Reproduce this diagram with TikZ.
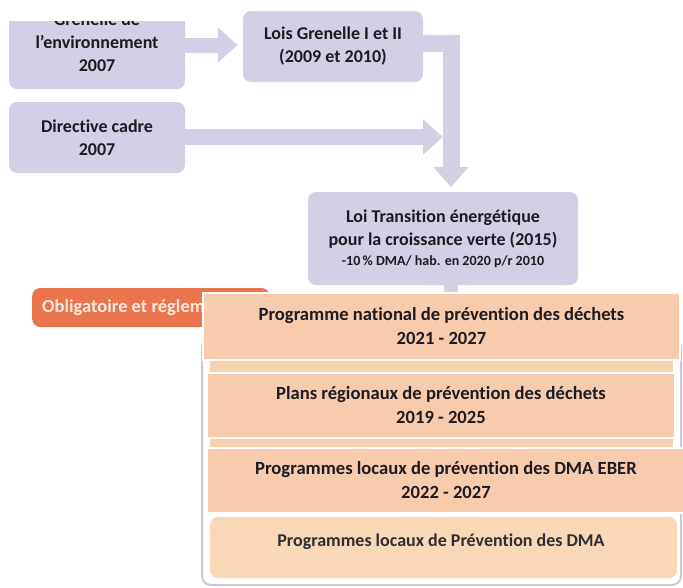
\documentclass[tikz,border=0pt]{standalone}
\usepackage{fontspec}
\setmainfont[Ligatures={NoCommon}]{Carlito}
\usetikzlibrary{arrows.meta}

\definecolor{lav}{HTML}{D3CFE4}
\definecolor{ink}{HTML}{1C1B22}
\definecolor{peach}{HTML}{F8CBAD}
\definecolor{peachold}{HTML}{F7D0AE}
\definecolor{peachlight}{HTML}{F9D8B7}
\definecolor{pillorange}{HTML}{EA744D}
\definecolor{pilltext}{HTML}{FCEAE0}
\definecolor{frame}{HTML}{C9C6D7}

\begin{document}
\begin{tikzpicture}[x=1pt,y=-1pt,
  lavbox/.style={fill=lav, rounded corners=8pt, inner sep=0pt, align=center,
    text=ink, font=\bfseries\fontsize{18}{23}\selectfont},
  arr/.style={draw=lav, line join=miter, -{Triangle[length=20pt,width=34pt]}},
  peachbox/.style={fill=peach, draw=white, line width=2.5pt, inner sep=0pt,
    align=center, text=ink, font=\bfseries\fontsize{18.6}{24}\selectfont},
  pill/.style={fill=pillorange, rounded corners=8pt, inner xsep=10pt, inner ysep=0pt,
    minimum height=39pt, text=pilltext, font=\bfseries\fontsize{18.5}{22}\selectfont}]
\useasboundingbox (0,0) rectangle (683,587);

% ---- upper chain of laws ----
\begin{scope}
  \clip (0,21) rectangle (683,587);
  \node[lavbox, minimum width=176pt, minimum height=94pt] (gren) at (97,42)
    {Grenelle de\\l’environnement\\2007};
\end{scope}
\node[lavbox, minimum width=176pt, minimum height=71pt] (dir) at (97,137.5)
  {Directive cadre\\2007};
\node[lavbox, minimum width=180pt, minimum height=71pt] (lois) at (333,46.5)
  {Lois Grenelle I et II\\(2009 et 2010)};
\node[lavbox, minimum width=270pt, minimum height=93pt] (loi) at (443,238.5)
  {Loi Transition énergétique\\pour la croissance verte (2015)\\[-3pt]
   {\fontsize{14}{16}\selectfont -10\,\% DMA/ hab. en 2020 p/r 2010}};

\coordinate (grenrow) at (0,45);
\coordinate (dirrow) at (0,137);
\coordinate (loisrow) at (0,43.5);
\coordinate (dirtip) at (443,137);
\coordinate (loitip) at (451,187);

\draw[arr, line width=15pt, shorten >=5pt] (gren.east |- grenrow) -- (lois.west |- grenrow);
\draw[arr, line width=16pt] (dir.east |- dirrow) -- (dirtip);
\draw[arr, line width=17pt] (lois.east |- loisrow) -| (loitip);
\draw[draw=lav, line width=14pt] (loi.south -| loitip) -- ++(0,10);

% ---- tag ----
\node[pill, anchor=west] (oblig) at (32,307.5) {Obligatoire et réglementaire};

% ---- framed stack of prevention plans ----
\draw[draw=frame, line width=2pt, rounded corners=9pt] (202,338) rectangle (681,585);
\fill[peachold] (210,350) rectangle (673,447);
\node[fill=peachlight, rounded corners=8pt, minimum width=467pt, minimum height=61pt,
  inner sep=0pt] (dmabox) at (443.5,547.5) {};
\node[text=ink!92, font=\bfseries\fontsize{18}{22}\selectfont] (dmatext) at (441,542)
  {Programmes locaux de Prévention des DMA};

\node[peachbox, minimum width=477pt, minimum height=67pt] (pnpd) at (441.5,326.5)
  {Programme national de prévention des déchets\\2021 - 2027};
\node[peachbox, minimum width=468pt, minimum height=65pt] (prpd) at (441,405.5)
  {Plans régionaux de prévention des déchets\\2019 - 2025};
\node[peachbox, minimum width=478pt, minimum height=65pt] (plpd) at (446,480.5)
  {Programmes locaux de prévention des DMA EBER\\2022 - 2027};
\end{tikzpicture}
\end{document}
